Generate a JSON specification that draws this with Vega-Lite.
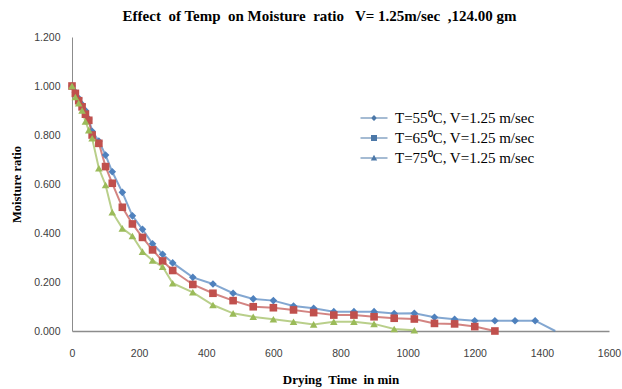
{
  "$schema": "https://vega.github.io/schema/vega-lite/v6.json",
  "width": 537,
  "height": 294,
  "autosize": {"type": "none"},
  "padding": {"left": 72, "top": 37, "right": 13, "bottom": 58},
  "background": "white",
  "config": {"view": {"stroke": null}},
  "title": {
    "text": "Effect \u00a0of Temp \u00a0on Moisture \u00a0ratio \u00a0 V= 1.25m/sec \u00a0,124.00 gm",
    "font": "Liberation Serif",
    "fontSize": 15,
    "fontWeight": "bold",
    "color": "#000000",
    "anchor": "middle",
    "dx": -21,
    "offset": 8
  },
  "data": {
    "values": [
      {"series": "T=55⁰C, V=1.25 m/sec", "time": 0, "mr": 1.0},
      {"series": "T=55⁰C, V=1.25 m/sec", "time": 10, "mr": 0.975},
      {"series": "T=55⁰C, V=1.25 m/sec", "time": 20, "mr": 0.95},
      {"series": "T=55⁰C, V=1.25 m/sec", "time": 30, "mr": 0.925},
      {"series": "T=55⁰C, V=1.25 m/sec", "time": 40, "mr": 0.9},
      {"series": "T=55⁰C, V=1.25 m/sec", "time": 50, "mr": 0.865},
      {"series": "T=55⁰C, V=1.25 m/sec", "time": 60, "mr": 0.815},
      {"series": "T=55⁰C, V=1.25 m/sec", "time": 80, "mr": 0.775},
      {"series": "T=55⁰C, V=1.25 m/sec", "time": 100, "mr": 0.718},
      {"series": "T=55⁰C, V=1.25 m/sec", "time": 120, "mr": 0.65},
      {"series": "T=55⁰C, V=1.25 m/sec", "time": 150, "mr": 0.566},
      {"series": "T=55⁰C, V=1.25 m/sec", "time": 180, "mr": 0.47},
      {"series": "T=55⁰C, V=1.25 m/sec", "time": 210, "mr": 0.415},
      {"series": "T=55⁰C, V=1.25 m/sec", "time": 240, "mr": 0.356},
      {"series": "T=55⁰C, V=1.25 m/sec", "time": 270, "mr": 0.313},
      {"series": "T=55⁰C, V=1.25 m/sec", "time": 300, "mr": 0.278},
      {"series": "T=55⁰C, V=1.25 m/sec", "time": 360, "mr": 0.219},
      {"series": "T=55⁰C, V=1.25 m/sec", "time": 420, "mr": 0.192},
      {"series": "T=55⁰C, V=1.25 m/sec", "time": 480, "mr": 0.154},
      {"series": "T=55⁰C, V=1.25 m/sec", "time": 540, "mr": 0.131},
      {"series": "T=55⁰C, V=1.25 m/sec", "time": 600, "mr": 0.124},
      {"series": "T=55⁰C, V=1.25 m/sec", "time": 660, "mr": 0.102},
      {"series": "T=55⁰C, V=1.25 m/sec", "time": 720, "mr": 0.093},
      {"series": "T=55⁰C, V=1.25 m/sec", "time": 780, "mr": 0.079},
      {"series": "T=55⁰C, V=1.25 m/sec", "time": 840, "mr": 0.079},
      {"series": "T=55⁰C, V=1.25 m/sec", "time": 900, "mr": 0.079},
      {"series": "T=55⁰C, V=1.25 m/sec", "time": 960, "mr": 0.071},
      {"series": "T=55⁰C, V=1.25 m/sec", "time": 1020, "mr": 0.072},
      {"series": "T=55⁰C, V=1.25 m/sec", "time": 1080, "mr": 0.056},
      {"series": "T=55⁰C, V=1.25 m/sec", "time": 1140, "mr": 0.048},
      {"series": "T=55⁰C, V=1.25 m/sec", "time": 1200, "mr": 0.042},
      {"series": "T=55⁰C, V=1.25 m/sec", "time": 1260, "mr": 0.042},
      {"series": "T=55⁰C, V=1.25 m/sec", "time": 1320, "mr": 0.042},
      {"series": "T=55⁰C, V=1.25 m/sec", "time": 1380, "mr": 0.042},
      {"series": "T=55⁰C, V=1.25 m/sec", "time": 1440, "mr": 0.0},
      {"series": "T=65⁰C, V=1.25 m/sec", "time": 0, "mr": 1.0},
      {"series": "T=65⁰C, V=1.25 m/sec", "time": 10, "mr": 0.97},
      {"series": "T=65⁰C, V=1.25 m/sec", "time": 20, "mr": 0.94},
      {"series": "T=65⁰C, V=1.25 m/sec", "time": 30, "mr": 0.915},
      {"series": "T=65⁰C, V=1.25 m/sec", "time": 40, "mr": 0.885},
      {"series": "T=65⁰C, V=1.25 m/sec", "time": 50, "mr": 0.86},
      {"series": "T=65⁰C, V=1.25 m/sec", "time": 60, "mr": 0.8},
      {"series": "T=65⁰C, V=1.25 m/sec", "time": 80, "mr": 0.766},
      {"series": "T=65⁰C, V=1.25 m/sec", "time": 100, "mr": 0.671},
      {"series": "T=65⁰C, V=1.25 m/sec", "time": 120, "mr": 0.603},
      {"series": "T=65⁰C, V=1.25 m/sec", "time": 150, "mr": 0.505},
      {"series": "T=65⁰C, V=1.25 m/sec", "time": 180, "mr": 0.437},
      {"series": "T=65⁰C, V=1.25 m/sec", "time": 210, "mr": 0.382},
      {"series": "T=65⁰C, V=1.25 m/sec", "time": 240, "mr": 0.331},
      {"series": "T=65⁰C, V=1.25 m/sec", "time": 270, "mr": 0.286},
      {"series": "T=65⁰C, V=1.25 m/sec", "time": 300, "mr": 0.247},
      {"series": "T=65⁰C, V=1.25 m/sec", "time": 360, "mr": 0.19},
      {"series": "T=65⁰C, V=1.25 m/sec", "time": 420, "mr": 0.154},
      {"series": "T=65⁰C, V=1.25 m/sec", "time": 480, "mr": 0.124},
      {"series": "T=65⁰C, V=1.25 m/sec", "time": 540, "mr": 0.099},
      {"series": "T=65⁰C, V=1.25 m/sec", "time": 600, "mr": 0.095},
      {"series": "T=65⁰C, V=1.25 m/sec", "time": 660, "mr": 0.086},
      {"series": "T=65⁰C, V=1.25 m/sec", "time": 720, "mr": 0.075},
      {"series": "T=65⁰C, V=1.25 m/sec", "time": 780, "mr": 0.065},
      {"series": "T=65⁰C, V=1.25 m/sec", "time": 840, "mr": 0.065},
      {"series": "T=65⁰C, V=1.25 m/sec", "time": 900, "mr": 0.058},
      {"series": "T=65⁰C, V=1.25 m/sec", "time": 960, "mr": 0.052},
      {"series": "T=65⁰C, V=1.25 m/sec", "time": 1020, "mr": 0.049},
      {"series": "T=65⁰C, V=1.25 m/sec", "time": 1080, "mr": 0.031},
      {"series": "T=65⁰C, V=1.25 m/sec", "time": 1140, "mr": 0.029},
      {"series": "T=65⁰C, V=1.25 m/sec", "time": 1200, "mr": 0.018},
      {"series": "T=65⁰C, V=1.25 m/sec", "time": 1260, "mr": 0.0},
      {"series": "T=75⁰C, V=1.25 m/sec", "time": 0, "mr": 1.0},
      {"series": "T=75⁰C, V=1.25 m/sec", "time": 10, "mr": 0.955},
      {"series": "T=75⁰C, V=1.25 m/sec", "time": 20, "mr": 0.93},
      {"series": "T=75⁰C, V=1.25 m/sec", "time": 30, "mr": 0.9},
      {"series": "T=75⁰C, V=1.25 m/sec", "time": 40, "mr": 0.855},
      {"series": "T=75⁰C, V=1.25 m/sec", "time": 50, "mr": 0.82},
      {"series": "T=75⁰C, V=1.25 m/sec", "time": 60, "mr": 0.787},
      {"series": "T=75⁰C, V=1.25 m/sec", "time": 80, "mr": 0.664},
      {"series": "T=75⁰C, V=1.25 m/sec", "time": 100, "mr": 0.596},
      {"series": "T=75⁰C, V=1.25 m/sec", "time": 120, "mr": 0.485},
      {"series": "T=75⁰C, V=1.25 m/sec", "time": 150, "mr": 0.419},
      {"series": "T=75⁰C, V=1.25 m/sec", "time": 180, "mr": 0.388},
      {"series": "T=75⁰C, V=1.25 m/sec", "time": 210, "mr": 0.324},
      {"series": "T=75⁰C, V=1.25 m/sec", "time": 240, "mr": 0.288},
      {"series": "T=75⁰C, V=1.25 m/sec", "time": 270, "mr": 0.262},
      {"series": "T=75⁰C, V=1.25 m/sec", "time": 300, "mr": 0.195},
      {"series": "T=75⁰C, V=1.25 m/sec", "time": 360, "mr": 0.158},
      {"series": "T=75⁰C, V=1.25 m/sec", "time": 420, "mr": 0.106},
      {"series": "T=75⁰C, V=1.25 m/sec", "time": 480, "mr": 0.072},
      {"series": "T=75⁰C, V=1.25 m/sec", "time": 540, "mr": 0.058},
      {"series": "T=75⁰C, V=1.25 m/sec", "time": 600, "mr": 0.048},
      {"series": "T=75⁰C, V=1.25 m/sec", "time": 660, "mr": 0.038},
      {"series": "T=75⁰C, V=1.25 m/sec", "time": 720, "mr": 0.027},
      {"series": "T=75⁰C, V=1.25 m/sec", "time": 780, "mr": 0.038},
      {"series": "T=75⁰C, V=1.25 m/sec", "time": 840, "mr": 0.038},
      {"series": "T=75⁰C, V=1.25 m/sec", "time": 900, "mr": 0.029},
      {"series": "T=75⁰C, V=1.25 m/sec", "time": 960, "mr": 0.008},
      {"series": "T=75⁰C, V=1.25 m/sec", "time": 1020, "mr": 0.003}
    ]
  },
  "encoding": {
    "x": {
      "field": "time",
      "type": "quantitative",
      "scale": {"domain": [0, 1600], "nice": false, "zero": true},
      "axis": {
        "title": "Drying \u00a0Time \u00a0in min",
        "titleFont": "Liberation Serif",
        "titleFontSize": 13,
        "titleFontWeight": "bold",
        "titleColor": "#000000",
        "titlePadding": 15,
        "values": [0, 200, 400, 600, 800, 1000, 1200, 1400, 1600],
        "format": "d",
        "labelFont": "Liberation Sans",
        "labelFontSize": 10.5,
        "labelColor": "#404040",
        "labelPadding": 17,
        "ticks": false,
        "grid": false,
        "domainColor": "#8c8c8c",
        "domainWidth": 1.5,
        "labelFlush": false
      }
    },
    "y": {
      "field": "mr",
      "type": "quantitative",
      "scale": {"domain": [0, 1.2], "nice": false},
      "axis": {
        "title": "Moisture ratio",
        "titleFont": "Liberation Serif",
        "titleFontSize": 12.5,
        "titleFontWeight": "bold",
        "titleColor": "#000000",
        "titlePadding": 10,
        "values": [0, 0.2, 0.4, 0.6, 0.8, 1.0, 1.2],
        "format": ".3f",
        "labelFont": "Liberation Sans",
        "labelFontSize": 10.5,
        "labelColor": "#404040",
        "labelPadding": 12,
        "ticks": false,
        "grid": false,
        "domainColor": "#8c8c8c",
        "domainWidth": 1
      }
    }
  },
  "layer": [
    {
      "mark": {"type": "line", "strokeWidth": 2, "opacity": 0.7},
      "encoding": {
        "color": {
          "field": "series",
          "type": "nominal",
          "scale": {
            "domain": ["T=55⁰C, V=1.25 m/sec", "T=65⁰C, V=1.25 m/sec", "T=75⁰C, V=1.25 m/sec"],
            "range": ["#4F81BD", "#C0504D", "#9BBB59"]
          },
          "legend": null
        }
      }
    },
    {
      "transform": [{"filter": "datum.time < 1440"}],
      "mark": {"type": "point", "filled": true, "opacity": 1, "size": 58},
      "encoding": {
        "color": {"field": "series", "type": "nominal", "legend": null},
        "shape": {
          "field": "series",
          "type": "nominal",
          "scale": {
            "domain": ["T=55⁰C, V=1.25 m/sec", "T=65⁰C, V=1.25 m/sec", "T=75⁰C, V=1.25 m/sec"],
            "range": ["diamond", "square", "triangle-up"]
          },
          "legend": null
        }
      }
    },
    {
      "mark": {"type": "point", "filled": true, "opacity": 0, "size": 400},
      "encoding": {
        "shape": {
          "field": "series",
          "type": "nominal",
          "scale": {
            "domain": ["T=55⁰C, V=1.25 m/sec", "T=65⁰C, V=1.25 m/sec", "T=75⁰C, V=1.25 m/sec"],
            "range": [
              "M-1.35,-0.06L1.35,-0.06L1.35,0.06L-1.35,0.06Z M0,-0.3L0.3,0L0,0.3L-0.3,0Z",
              "M-1.35,-0.06L1.35,-0.06L1.35,0.06L-1.35,0.06Z M-0.3,-0.3L0.3,-0.3L0.3,0.3L-0.3,0.3Z",
              "M-1.35,-0.06L1.35,-0.06L1.35,0.06L-1.35,0.06Z M0,-0.32L0.32,0.26L-0.32,0.26Z"
            ]
          },
          "legend": {
            "title": null,
            "orient": "none",
            "legendX": 292,
            "legendY": 71,
            "padding": 0,
            "symbolOpacity": 1,
            "symbolSize": 400,
            "symbolStrokeWidth": 0,
            "labelFont": "Liberation Serif",
            "labelFontSize": 15,
            "labelColor": "#000000",
            "labelOffset": 11,
            "rowPadding": 2,
            "labelLimit": 300,
            "encode": {
              "symbols": {
                "update": {
                  "fill": {"scale": "color", "field": "value"},
                  "opacity": {"value": 1}
                }
              }
            }
          }
        }
      }
    }
  ],
  "resolve": {"scale": {"shape": "independent"}}
}
